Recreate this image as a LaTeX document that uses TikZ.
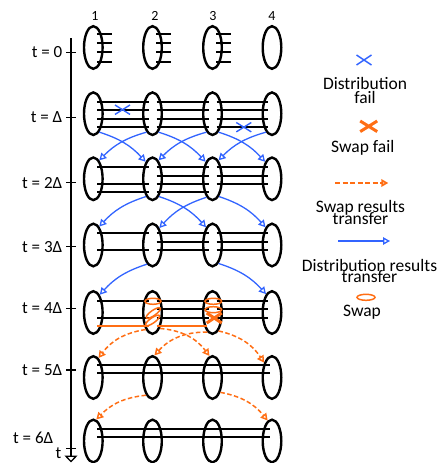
\documentclass[tikz,border=0pt]{standalone}
\usepackage{fontspec}
\setmainfont{Carlito}
\usetikzlibrary{shapes.geometric,arrows.meta}
\definecolor{distblue}{RGB}{50,100,255}
\definecolor{swaporange}{RGB}{255,110,20}

\begin{document}
\begin{tikzpicture}[x=1pt,y=1pt,
  memory/.style={ellipse,draw,line width=2.4pt,minimum width=18.6pt,minimum height=42.6pt,inner sep=0pt},
  link/.style={line width=2pt},
  swaplink/.style={swaporange,line width=2pt},
  distarrow/.style={distblue,line width=1.3pt,-{Triangle[open,length=7pt,width=7.5pt]}},
  swaparrow/.style={swaporange,line width=1.5pt,dash pattern=on 4.5pt off 2.5pt,-{Triangle[open,length=7pt,width=7.5pt]}},
  distfail/.style={distblue,line width=1.4pt},
  swapfail/.style={swaporange,line width=3pt},
  swapring/.style={swaporange,line width=1.5pt},
  legtext/.style={font=\fontsize{17.5}{21}\selectfont,align=center,inner sep=0pt},
  timelabel/.style={font=\fontsize{17}{20}\selectfont,anchor=east,inner sep=0pt},
  nodenum/.style={font=\fontsize{14}{16}\selectfont,anchor=base,inner sep=0pt}]
  \useasboundingbox (0,0) rectangle (443,-463);

  % memories of the four nodes, one row per time step
  \foreach \r/\y in {0/47.5,1/113.7,2/178.8,3/245,4/312.5,5/377.5,6/441}
    \foreach \c/\x in {1/93.3,2/152.5,3/212.5,4/272}
      \node[memory] (n\r\c) at (\x,-\y) {};

  \node[nodenum] (num1) at (95,-20) {1};
  \node[nodenum] (num2) at (155,-20) {2};
  \node[nodenum] (num3) at (213,-20) {3};
  \node[nodenum] (num4) at (272,-20) {4};

  % time axis
  \coordinate (axtop) at (71,-38.3);
  \coordinate (axend) at (71,-462.5);
  \draw[line width=2pt,-{Triangle[open,length=7pt,width=13pt,line width=1.3pt]}] (axtop) -- (axend);
  \foreach \k/\y/\txt in {0/52.3/0,1/117.3/Δ,2/182.7/2Δ,3/246.7/3Δ,4/308.3/4Δ,5/370/5Δ}
    \draw[line width=1.5pt] (66,-\y) -- (76,-\y) node[timelabel] (tl\k) at (63,-\y) {t = \txt};
  \draw[line width=1.5pt] (66,-448.3) -- (76,-448.3) node[timelabel] (tl6) at (54,-438.3) {t = 6Δ};
  \node[font=\fontsize{17}{20}\selectfont,inner sep=0pt] (tname) at (58.5,-453.5) {t};

  % qubits waiting at t = 0
  \foreach \c in {1,2,3}
    \foreach \l in {13.2,4.6,-4.4,-14}
      \draw[link] ([xshift=3.5pt,yshift=\l pt]n0\c.center) -- ++(15,0);

  % entangled links
  \foreach \r/\a/\b/\lv in {
    1/1/2/{11.6,3.3,-5,-13.3}, 1/2/3/{11.6,3.3,-5,-13.3}, 1/3/4/{11.6,3.3,-5,-13.3},
    2/1/2/{11.6,-5,-13.3}, 2/2/3/{11.6,3.3,-5,-13.3}, 2/3/4/{11.6,3.3,-5},
    3/1/2/{11.6,-5}, 3/2/3/{11.6,3.3,-5}, 3/3/4/{11.6,3.3,-5},
    4/1/2/{11.6,-5}, 4/2/3/{11.6,3.3,-5}, 4/3/4/{11.6,3.3,-5}}
    \foreach \l in \lv
      \draw[link] ([xshift=4pt,yshift=\l pt]n\r\a.center) -- ([xshift=-4pt,yshift=\l pt]n\r\b.center);
  \draw[swaplink] ([xshift=4pt,yshift=-13.3pt]n41.center) -- ([xshift=-4pt,yshift=-13.3pt]n42.center);
  \draw[swaplink] ([xshift=4pt,yshift=-13.3pt]n42.center) -- ([xshift=-6pt,yshift=-13.3pt]n43.center);
  \foreach \r in {5,6}
    \foreach \l in {12.3,4.2}
      \draw[link] ([xshift=4pt,yshift=\l pt]n\r1.center) -- ([xshift=-2pt,yshift=\l pt]n\r4.center);

  % failed distributions
  \draw[distfail] (122.5,-109.7) +(-7.5,-4.7) -- +(7.5,4.7) +(-7.5,4.7) -- +(7.5,-4.7);
  \draw[distfail] (243.8,-127.2) +(-7.5,-4.7) -- +(7.5,4.7) +(-7.5,4.7) -- +(7.5,-4.7);

  % distribution results
  \foreach \s/\t/\o/\i/\b in {11/22/-72/112/15, 12/21/-108/72/-15, 12/23/-72/112/15,
      13/22/-108/72/-15, 13/24/-72/112/15, 14/23/-108/72/-15,
      22/31/-110/72/-15, 22/33/-70/110/15, 23/32/-108/68/-15, 23/34/-70/110/15,
      32/41/-106/70/-15, 33/44/-72/108/15}
    \draw[distarrow] (n\s.\o) to[bend left=\b] (n\t.\i);

  % swaps at t = 4 Delta
  \draw[swapring] (153,-301.3) ellipse[x radius=8,y radius=3];
  \draw[swapring,rotate around={35:(153.3,-313)}] (153.3,-313) ellipse[x radius=8.5,y radius=2.6];
  \draw[swapring,rotate around={35:(152.5,-320.5)}] (152.5,-320.5) ellipse[x radius=8.5,y radius=2.6];
  \draw[swapring] (213.3,-301.3) ellipse[x radius=8.3,y radius=3];
  \draw[swapring] (213.3,-309.7) ellipse[x radius=8.3,y radius=3];
  \draw[swapfail] (206.7,-313) -- (221.7,-323) (206.7,-323) -- (221.7,-313);

  % swap results
  \foreach \s/\t/\o/\i/\b in {42/51/-112/75/-22, 42/53/-65/98/24, 43/52/-105/85/-24,
      43/54/-72/118/22, 52/61/-110/82/-20, 53/64/-62/102/20}
    \draw[swaparrow] (n\s.\o) to[bend left=\b] (n\t.\i);

  % legend
  \draw[distfail] (364,-60) +(-7.5,-5) -- +(7.5,5) +(-7.5,5) -- +(7.5,-5);
  \node[legtext] (lgdistfail) at (365,-90.5) {Distribution\\[-7pt]fail};
  \draw[swapfail] (368.7,-126.3) +(-8.5,-5.3) -- +(8.5,5.3) +(-8.5,5.3) -- +(8.5,-5.3);
  \node[legtext,anchor=base] (lgswapfail) at (362.8,-152.3) {Swap fail};
  \coordinate (lgsa) at (335,-183);
  \coordinate (lgsb) at (388.3,-183);
  \draw[swaparrow,line width=2pt,dash pattern=on 5pt off 2.5pt] (lgsa) -- (lgsb);
  \node[legtext] (lgswapres) at (360.5,-212.7) {Swap results\\[-9pt]transfer};
  \coordinate (lgda) at (338.3,-241);
  \coordinate (lgdb) at (390,-241);
  \draw[distarrow] (lgda) -- (lgdb);
  \node[legtext] (lgdistres) at (369.5,-270.5) {Distribution results\\[-10pt]transfer};
  \draw[swapring] (366,-297.3) ellipse[x radius=9,y radius=3];
  \node[legtext,anchor=base] (lgswap) at (362,-316.7) {Swap};
\end{tikzpicture}
\end{document}
